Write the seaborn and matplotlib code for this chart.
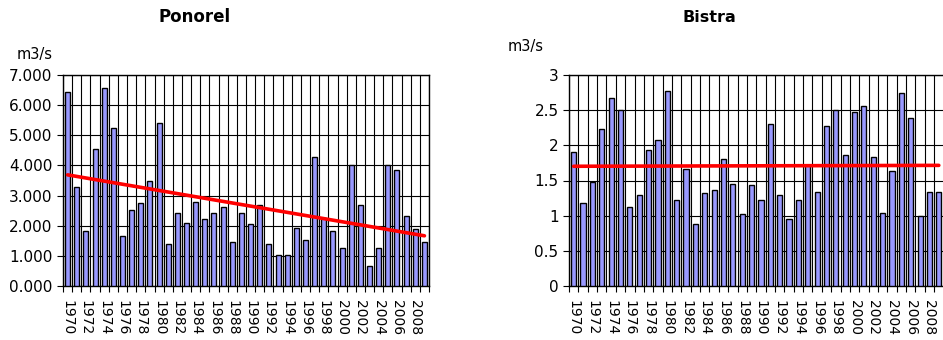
import numpy as np
import pandas as pd
import seaborn as sns
import matplotlib.pyplot as plt
from matplotlib.ticker import FixedLocator, FuncFormatter

years = list(range(1970, 2010))

ponorel = [6.43, 3.27, 1.84, 4.56, 6.58, 5.24, 1.67, 2.52, 2.74, 3.48,
           5.41, 1.40, 2.42, 2.10, 2.80, 2.21, 2.42, 2.63, 1.46, 2.42,
           2.07, 2.70, 1.40, 1.02, 1.02, 1.94, 1.52, 4.28, 2.25, 1.84,
           1.25, 4.02, 2.70, 0.66, 1.25, 4.02, 3.86, 2.31, 1.89, 1.46]

bistra = [1.90, 1.18, 1.48, 2.23, 2.68, 2.50, 1.13, 1.29, 1.93, 2.07,
          2.77, 1.22, 1.66, 0.88, 1.32, 1.36, 1.80, 1.45, 1.03, 1.43,
          1.22, 2.30, 1.29, 0.95, 1.22, 1.72, 1.34, 2.27, 2.50, 1.86,
          2.48, 2.56, 1.84, 1.04, 1.63, 2.75, 2.39, 1.00, 1.34, 1.34]

sns.set_style("white")
plt.rcParams['font.family'] = ['DejaVu Sans']
plt.rcParams['text.color'] = 'black'
plt.rcParams['xtick.color'] = 'black'
plt.rcParams['ytick.color'] = 'black'
plt.rcParams['xtick.labelcolor'] = 'black'
plt.rcParams['ytick.labelcolor'] = 'black'

fig = plt.figure(figsize=(9.43, 3.4), dpi=100)
ax1 = fig.add_axes([63 / 943, 54 / 340, 366 / 943, 211 / 340])
ax2 = fig.add_axes([569 / 943, 54 / 340, 374.5 / 943, 211 / 340])


def draw_panel(ax, values, ymax, ystep, fmt):
    df = pd.DataFrame({'year': [str(y) for y in years], 'q': values})
    sns.barplot(data=df, x='year', y='q', ax=ax, color='#9999FF',
                saturation=1, width=0.55, edgecolor='black',
                linewidth=1.0, zorder=3)
    # linear trend line over the bar positions
    sns.regplot(x=np.arange(len(values)), y=np.array(values), ax=ax,
                scatter=False, ci=None, truncate=True,
                line_kws={'color': 'red', 'lw': 2.6, 'zorder': 4})
    n = len(values)
    ax.set_xlim(-0.5, n - 0.5)
    ax.set_ylim(0, ymax)
    ax.set_yticks(np.arange(0, ymax + ystep / 2, ystep))
    ax.yaxis.set_major_formatter(FuncFormatter(fmt))
    ax.set_xticks(range(0, n, 2))
    ax.set_xticklabels([str(y) for y in years[::2]], rotation=-90,
                       fontsize=10, color='black')
    ax.xaxis.set_minor_locator(FixedLocator(np.arange(-0.5, n, 1)))
    ax.tick_params(axis='x', which='major', length=0, pad=10)
    ax.tick_params(axis='x', which='minor', length=4, width=0.8,
                   direction='out', color='black', bottom=True)
    ax.tick_params(axis='y', length=4, width=0.8, direction='out',
                   left=True, labelsize=11, color='black',
                   labelcolor='black')
    ax.grid(False)
    ax.grid(True, axis='y', which='major', color='black', lw=0.8, zorder=0)
    ax.grid(True, axis='x', which='minor', color='black', lw=0.8, zorder=0)
    ax.set_xlabel('')
    ax.set_ylabel('')
    for s in ax.spines.values():
        s.set_color('black')
        s.set_linewidth(1.0)


draw_panel(ax1, ponorel, 7, 1, lambda v, p: f"{v:.3f}")
draw_panel(ax2, bistra, 3, 0.5, lambda v, p: f"{v:g}")

fig.text(17 / 943, 1 - 54 / 340, 'm3/s', fontsize=10.5, va='center', ha='left')
fig.text(508 / 943, 1 - 47 / 340, 'm3/s', fontsize=10.5, va='center', ha='left')
fig.text(194.5 / 943, 1 - 17 / 340, 'Ponorel', fontsize=12,
         fontweight='bold', ha='center', va='center')
fig.text(709 / 943, 1 - 17 / 340, 'Bistra', fontsize=11.5,
         fontweight='bold', ha='center', va='center')

fig.savefig('out.png', dpi=100)
